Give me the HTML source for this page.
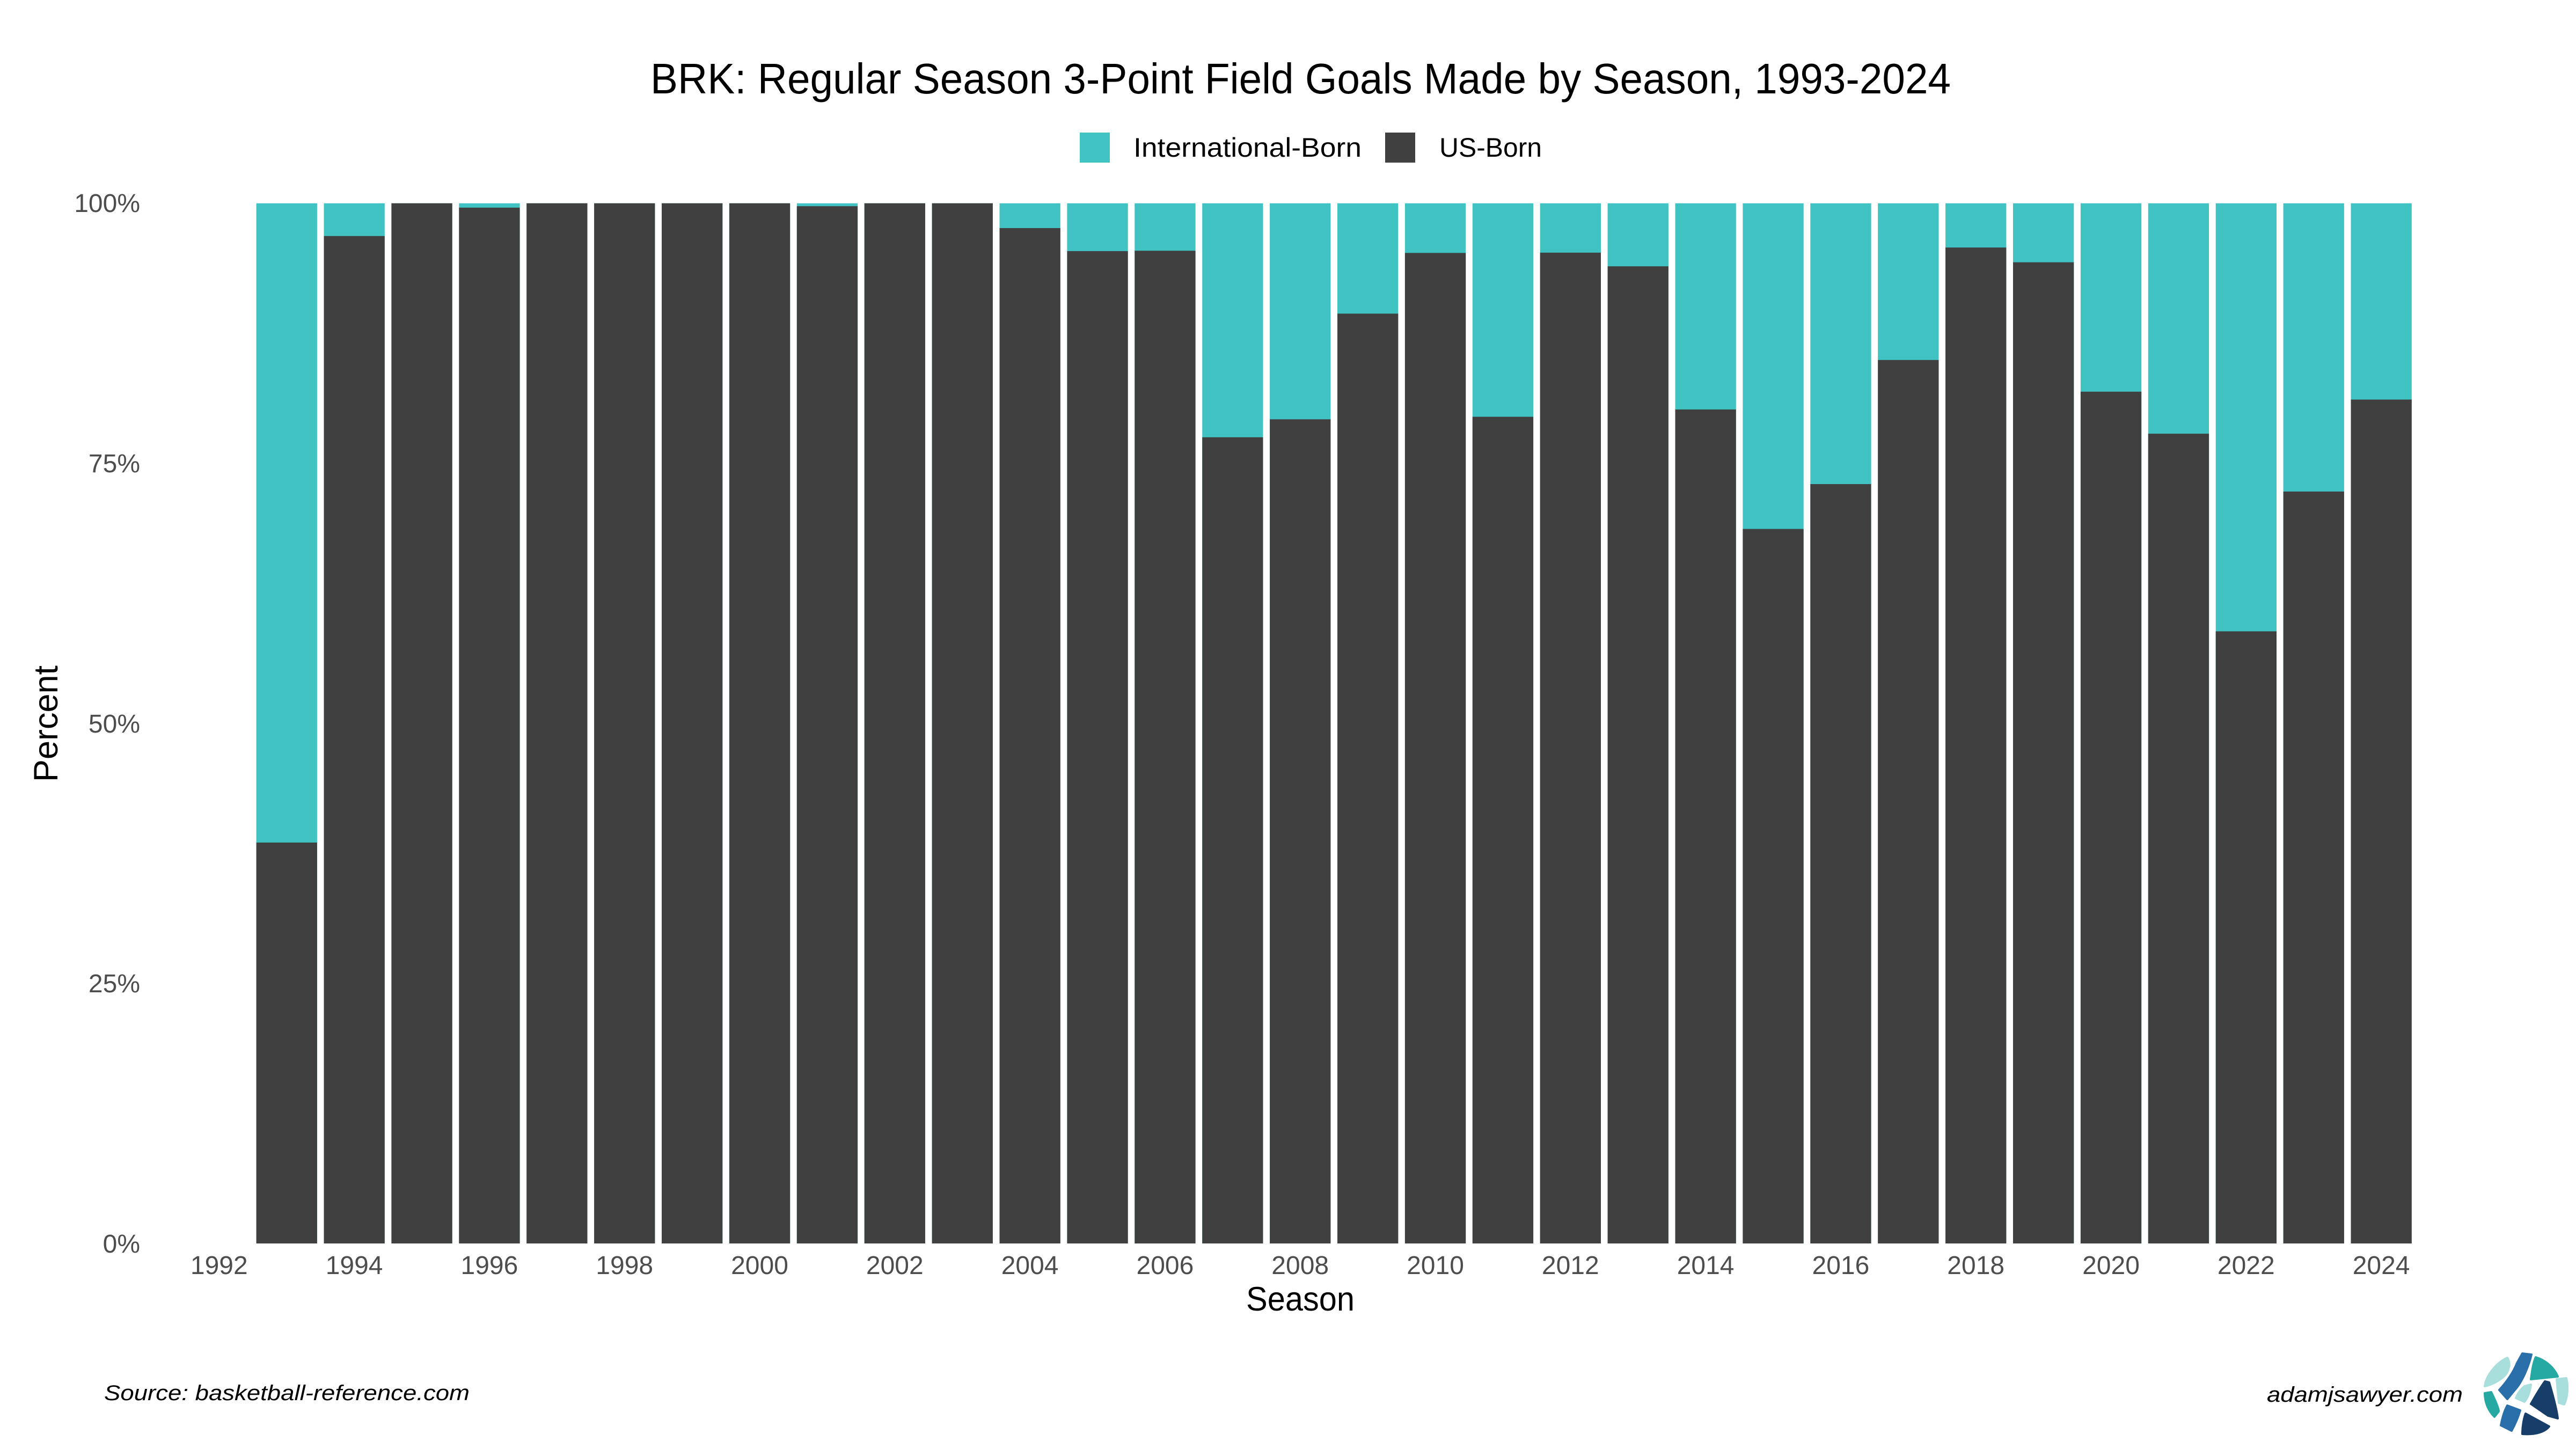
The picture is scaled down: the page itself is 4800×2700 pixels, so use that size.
<!DOCTYPE html>
<html>
<head>
<meta charset="utf-8">
<style>
  html, body { margin:0; padding:0; background:#ffffff; }
  svg { display:block; }
  text { font-family: "Liberation Sans", "DejaVu Sans", sans-serif; }
</style>
</head>
<body>
<svg width="4800" height="2700" viewBox="0 0 4800 2700" xmlns="http://www.w3.org/2000/svg">
  <rect x="0" y="0" width="4800" height="2700" fill="#ffffff"/>

  <!-- Title -->
  <text x="1212" y="174" font-size="80" fill="#000000" textLength="2423" lengthAdjust="spacingAndGlyphs">BRK: Regular Season 3-Point Field Goals Made by Season, 1993-2024</text>

  <!-- Legend -->
  <rect x="2012" y="247" width="56" height="56" fill="#41C2C3"/>
  <text x="2112" y="292" font-size="50" fill="#000000" textLength="425" lengthAdjust="spacingAndGlyphs">International-Born</text>
  <rect x="2581" y="247" width="56" height="56" fill="#404040"/>
  <text x="2682" y="292" font-size="50" fill="#000000" textLength="191" lengthAdjust="spacingAndGlyphs">US-Born</text>

  <!-- Bars -->
  <g id="bars"></g>

  <!-- Y tick labels -->
  <g font-size="48" fill="#4D4D4D" text-anchor="end">
    <text x="261" y="395">100%</text>
    <text x="261" y="880">75%</text>
    <text x="261" y="1365">50%</text>
    <text x="261" y="1849">25%</text>
    <text x="261" y="2334">0%</text>
  </g>

  <!-- X tick labels -->
  <g font-size="48" fill="#4D4D4D" text-anchor="middle">
    <text x="408.3" y="2374">1992</text>
    <text x="660.1" y="2374">1994</text>
    <text x="911.9" y="2374">1996</text>
    <text x="1163.7" y="2374">1998</text>
    <text x="1415.5" y="2374">2000</text>
    <text x="1667.3" y="2374">2002</text>
    <text x="1919.1" y="2374">2004</text>
    <text x="2170.9" y="2374">2006</text>
    <text x="2422.7" y="2374">2008</text>
    <text x="2674.5" y="2374">2010</text>
    <text x="2926.3" y="2374">2012</text>
    <text x="3178.1" y="2374">2014</text>
    <text x="3429.9" y="2374">2016</text>
    <text x="3681.7" y="2374">2018</text>
    <text x="3933.5" y="2374">2020</text>
    <text x="4185.3" y="2374">2022</text>
    <text x="4437.1" y="2374">2024</text>
  </g>

  <!-- Axis titles -->
  <text x="2322" y="2442" font-size="63" fill="#000000" textLength="202" lengthAdjust="spacingAndGlyphs">Season</text>
  <text transform="translate(107,1457) rotate(-90)" x="0" y="0" font-size="63" fill="#000000" textLength="217" lengthAdjust="spacingAndGlyphs">Percent</text>

  <!-- Caption -->
  <text x="194" y="2609" font-size="40" font-style="italic" fill="#000000" textLength="681" lengthAdjust="spacingAndGlyphs">Source: basketball-reference.com</text>
  <text x="4224" y="2612" font-size="40" font-style="italic" fill="#000000" textLength="365" lengthAdjust="spacingAndGlyphs">adamjsawyer.com</text>

  <!-- Logo (approximation) -->
  <g stroke-linejoin="round" stroke-linecap="round">
    <path d="M4672,2530 C4650,2540 4632,2565 4630,2583 C4645,2580 4662,2570 4670,2560 C4676,2550 4678,2538 4672,2530 Z" fill="#A8DEDC" stroke="#A8DEDC" stroke-width="4"/>
    <path d="M4700,2522 L4717,2524 C4712,2545 4700,2575 4686,2590 L4672,2607 L4657,2590 C4668,2578 4682,2560 4690,2540 Z" fill="#2A6EAA" stroke="#2A6EAA" stroke-width="4"/>
    <path d="M4725,2529 C4745,2535 4760,2550 4766,2565 L4716,2570 C4718,2555 4720,2540 4725,2529 Z" fill="#26A9A2" stroke="#26A9A2" stroke-width="4"/>
    <path d="M4764,2570 L4782,2568 C4786,2585 4784,2605 4778,2617 L4768,2614 Z" fill="#A8DEDC" stroke="#A8DEDC" stroke-width="4"/>
    <path d="M4704,2583 L4716,2580 C4714,2595 4710,2605 4704,2612 L4688,2605 C4692,2595 4698,2588 4704,2583 Z" fill="#A8DEDC" stroke="#A8DEDC" stroke-width="4"/>
    <path d="M4742,2574 L4750,2576 C4757,2600 4764,2625 4766,2643 L4748,2638 L4716,2616 C4725,2600 4734,2585 4742,2574 Z" fill="#163E68" stroke="#163E68" stroke-width="4"/>
    <path d="M4630,2596 L4642,2594 C4650,2610 4656,2625 4656,2630 L4648,2640 C4636,2628 4630,2612 4630,2596 Z" fill="#26A9A2" stroke="#26A9A2" stroke-width="4"/>
    <path d="M4672,2619 L4696,2628 C4692,2642 4686,2655 4680,2666 L4660,2656 C4662,2645 4666,2630 4672,2619 Z" fill="#2A6EAA" stroke="#2A6EAA" stroke-width="4"/>
    <path d="M4706,2634 L4750,2658 C4742,2668 4725,2674 4700,2672 C4700,2660 4702,2645 4706,2634 Z" fill="#163E68" stroke="#163E68" stroke-width="4"/>
  </g>

  <script>
    (function(){
      var ns = "http://www.w3.org/2000/svg";
      var g = document.getElementById("bars");
      var top = 378.8, bottom = 2317;
      var b = [1570, 439.8, 378.8, 386.9, 378.8, 378.8, 378.8, 378.8, 384.2, 378.8, 378.8,
               425, 467.9, 467.2, 814.8, 781.3, 584.4, 471.3, 776.6, 470.8, 496.2,
               763, 985.6, 902, 670.8, 461.2, 488.7, 729.8, 808.1, 1176.4, 915.9, 744.5];
      for (var i = 0; i < b.length; i++) {
        var x = 477.6 + i * 125.9;
        var r1 = document.createElementNS(ns, "rect");
        r1.setAttribute("x", x.toFixed(1));
        r1.setAttribute("y", top);
        r1.setAttribute("width", "113.3");
        r1.setAttribute("height", (bottom - top).toFixed(1));
        r1.setAttribute("fill", "#41C2C3");
        g.appendChild(r1);
        var r2 = document.createElementNS(ns, "rect");
        r2.setAttribute("x", x.toFixed(1));
        r2.setAttribute("y", b[i]);
        r2.setAttribute("width", "113.3");
        r2.setAttribute("height", (bottom - b[i]).toFixed(1));
        r2.setAttribute("fill", "#404040");
        g.appendChild(r2);
      }
    })();
  </script>
</svg>
</body>
</html>
